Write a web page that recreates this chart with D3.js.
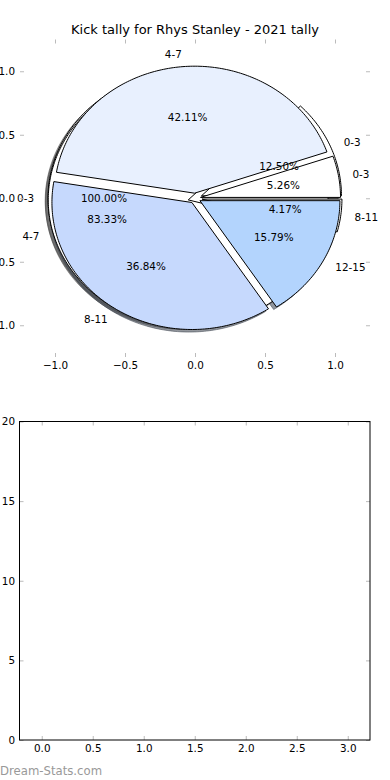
<!DOCTYPE html>
<html>
<head>
<meta charset="utf-8">
<script src="https://cdn.jsdelivr.net/npm/d3@7"></script>
<style>
  body { margin: 0; background: #fff; }
  svg { display: block; font-family: "DejaVu Sans", sans-serif; }
</style>
</head>
<body>
<div id="chart"></div>
<script>
// chart text and values
const chartTitle = "Kick tally for Rhys Stanley - 2021 tally";
const watermark = "Dream-Stats.com";

// three pies drawn on the same axes (bottom first)
const pieLabelsC = ["0-3"];
const pieValuesC = [1];
const pieLabelsB = ["0-3", "4-7", "8-11"];
const pieValuesB = [3, 20, 1];
const pieLabelsA = ["0-3", "4-7", "8-11", "12-15"];
const pieValuesA = [1, 8, 7, 3];

const pieTicks = [-1, -0.5, 0, 0.5, 1];
const barXTicks = [0, 0.5, 1, 1.5, 2, 2.5, 3];
const barYTicks = [0, 5, 10, 15, 20];

const width = 390, height = 780;
const tickColor = "#bbb";
const fontSize = 10.4;

const pies = [
    { labels: pieLabelsC, values: pieValuesC, colors: ["#ffffff"], explode: 0.05 },
    { labels: pieLabelsB, values: pieValuesB, colors: ["#ffffff", "#ffffff", "#ffffff"], explode: 0.05 },
    { labels: pieLabelsA, values: pieValuesA, colors: ["#ffffff", "#e8f0fe", "#c6d9fd", "#b3d4fd"], explode: 0.04 }
];

const svg = d3.select("#chart").append("svg")
    .attr("width", width)
    .attr("height", height);

svg.append("text")
    .attr("x", 195)
    .attr("y", 34)
    .attr("text-anchor", "middle")
    .attr("font-size", 13)
    .text(chartTitle);

// ---- pie axes ----
const xP = d3.scaleLinear().domain([-1.25, 1.25]).range([20, 370]);
const yP = d3.scaleLinear().domain([-1.25, 1.25]).range([357, 39.5]);

// angles counterclockwise from 3 o'clock, like matplotlib
const wedges = pies.flatMap((p, pi) => {
    const total = d3.sum(p.values);
    return d3.pie().sort(null).startAngle(0).endAngle(2 * Math.PI)(p.values).map((a, i) => {
        const mid = (a.startAngle + a.endAngle) / 2;
        return {
            pie: pi,
            label: p.labels[i],
            pct: d3.format(".2f")(a.value / total * 100) + "%",
            color: p.colors[i],
            start: a.startAngle,
            end: a.endAngle,
            mid: mid,
            cx: p.explode * Math.cos(mid),
            cy: p.explode * Math.sin(mid)
        };
    });
});

function wedgePath(w, dx, dy) {
    const span = w.end - w.start;
    const full = span >= 2 * Math.PI - 1e-9;
    const n = Math.max(2, Math.ceil(span / (Math.PI / 180)));
    const pts = full ? [] : [[w.cx, w.cy]];
    for (let k = 0; k <= n; k++) {
        const t = w.start + span * k / n;
        pts.push([w.cx + Math.cos(t), w.cy + Math.sin(t)]);
    }
    return d3.line()
        .x(p => xP(p[0] + dx))
        .y(p => yP(p[1] + dy))
        .curve(d3.curveLinearClosed)(pts);
}

function shade(c) {
    const r = d3.rgb(c);
    return `rgba(${r.r * 0.3},${r.g * 0.3},${r.b * 0.3},0.55)`;
}

// shadows sit under every wedge
svg.append("g")
    .selectAll("path")
    .data(wedges)
    .join("path")
    .attr("d", d => wedgePath(d, -0.02, -0.02))
    .attr("fill", d => shade(d.color))
    .attr("stroke", d => shade(d.color))
    .attr("stroke-width", 1);

svg.append("g")
    .selectAll("path")
    .data(wedges)
    .join("path")
    .attr("d", d => wedgePath(d, 0, 0))
    .attr("fill", d => d.color)
    .attr("stroke", "#000")
    .attr("stroke-width", 1)
    .attr("stroke-linejoin", "round");

const texts = svg.append("g").attr("font-size", fontSize);

wedges.forEach(w => {
    const lx = w.cx + 1.1 * Math.cos(w.mid);
    const ly = w.cy + 1.1 * Math.sin(w.mid);
    texts.append("text")
        .attr("x", xP(lx))
        .attr("y", yP(ly))
        .attr("dy", "0.35em")
        .attr("text-anchor", lx > 0 ? "start" : "end")
        .text(w.label);
    texts.append("text")
        .attr("x", xP(w.cx + 0.6 * Math.cos(w.mid)))
        .attr("y", yP(w.cy + 0.6 * Math.sin(w.mid)))
        .attr("dy", "0.35em")
        .attr("text-anchor", "middle")
        .text(w.pct);
});

function styleAxis(g, showLabels) {
    g.select(".domain").remove();
    g.selectAll(".tick line").attr("stroke", tickColor).attr("stroke-width", 1);
    g.selectAll(".tick text").attr("fill", "#000").attr("font-size", fontSize)
        .attr("font-family", "DejaVu Sans, sans-serif");
    if (!showLabels) g.selectAll(".tick text").remove();
}

const fmt1 = d3.format(".1f");

svg.append("g").attr("transform", `translate(0,${yP.range()[0]})`)
    .call(d3.axisBottom(xP).tickValues(pieTicks).tickFormat(fmt1).tickSize(-4).tickPadding(5))
    .call(g => styleAxis(g, true));
svg.append("g").attr("transform", `translate(0,${yP.range()[1]})`)
    .call(d3.axisTop(xP).tickValues(pieTicks).tickSize(-4))
    .call(g => styleAxis(g, false));
svg.append("g").attr("transform", `translate(${xP.range()[0]},0)`)
    .call(d3.axisLeft(yP).tickValues(pieTicks).tickFormat(fmt1).tickSize(-4).tickPadding(5))
    .call(g => styleAxis(g, true));
svg.append("g").attr("transform", `translate(${xP.range()[1]},0)`)
    .call(d3.axisRight(yP).tickValues(pieTicks).tickSize(-4))
    .call(g => styleAxis(g, false));

// ---- empty lower axes ----
const xB = d3.scaleLinear().domain([-0.218, 3.218]).range([19.5, 370]);
const yB = d3.scaleLinear().domain([0, 20]).range([740, 421.5]);

svg.append("g").attr("transform", `translate(0,${yB.range()[0]})`)
    .call(d3.axisBottom(xB).tickValues(barXTicks).tickFormat(fmt1).tickSize(-4).tickPadding(5))
    .call(g => styleAxis(g, true));
svg.append("g").attr("transform", `translate(0,${yB.range()[1]})`)
    .call(d3.axisTop(xB).tickValues(barXTicks).tickSize(-4))
    .call(g => styleAxis(g, false));
svg.append("g").attr("transform", `translate(${xB.range()[0]},0)`)
    .call(d3.axisLeft(yB).tickValues(barYTicks).tickFormat(d3.format("d")).tickSize(-4).tickPadding(4.5))
    .call(g => styleAxis(g, true));
svg.append("g").attr("transform", `translate(${xB.range()[1]},0)`)
    .call(d3.axisRight(yB).tickValues(barYTicks).tickSize(-4))
    .call(g => styleAxis(g, false));

svg.append("rect")
    .attr("x", xB.range()[0])
    .attr("y", yB.range()[1])
    .attr("width", xB.range()[1] - xB.range()[0])
    .attr("height", yB.range()[0] - yB.range()[1])
    .attr("fill", "none")
    .attr("stroke", "#000")
    .attr("stroke-width", 1);

svg.append("text")
    .attr("x", 0)
    .attr("y", 775)
    .attr("font-size", 11.7)
    .attr("fill", "#999")
    .text(watermark);
</script>
</body>
</html>
